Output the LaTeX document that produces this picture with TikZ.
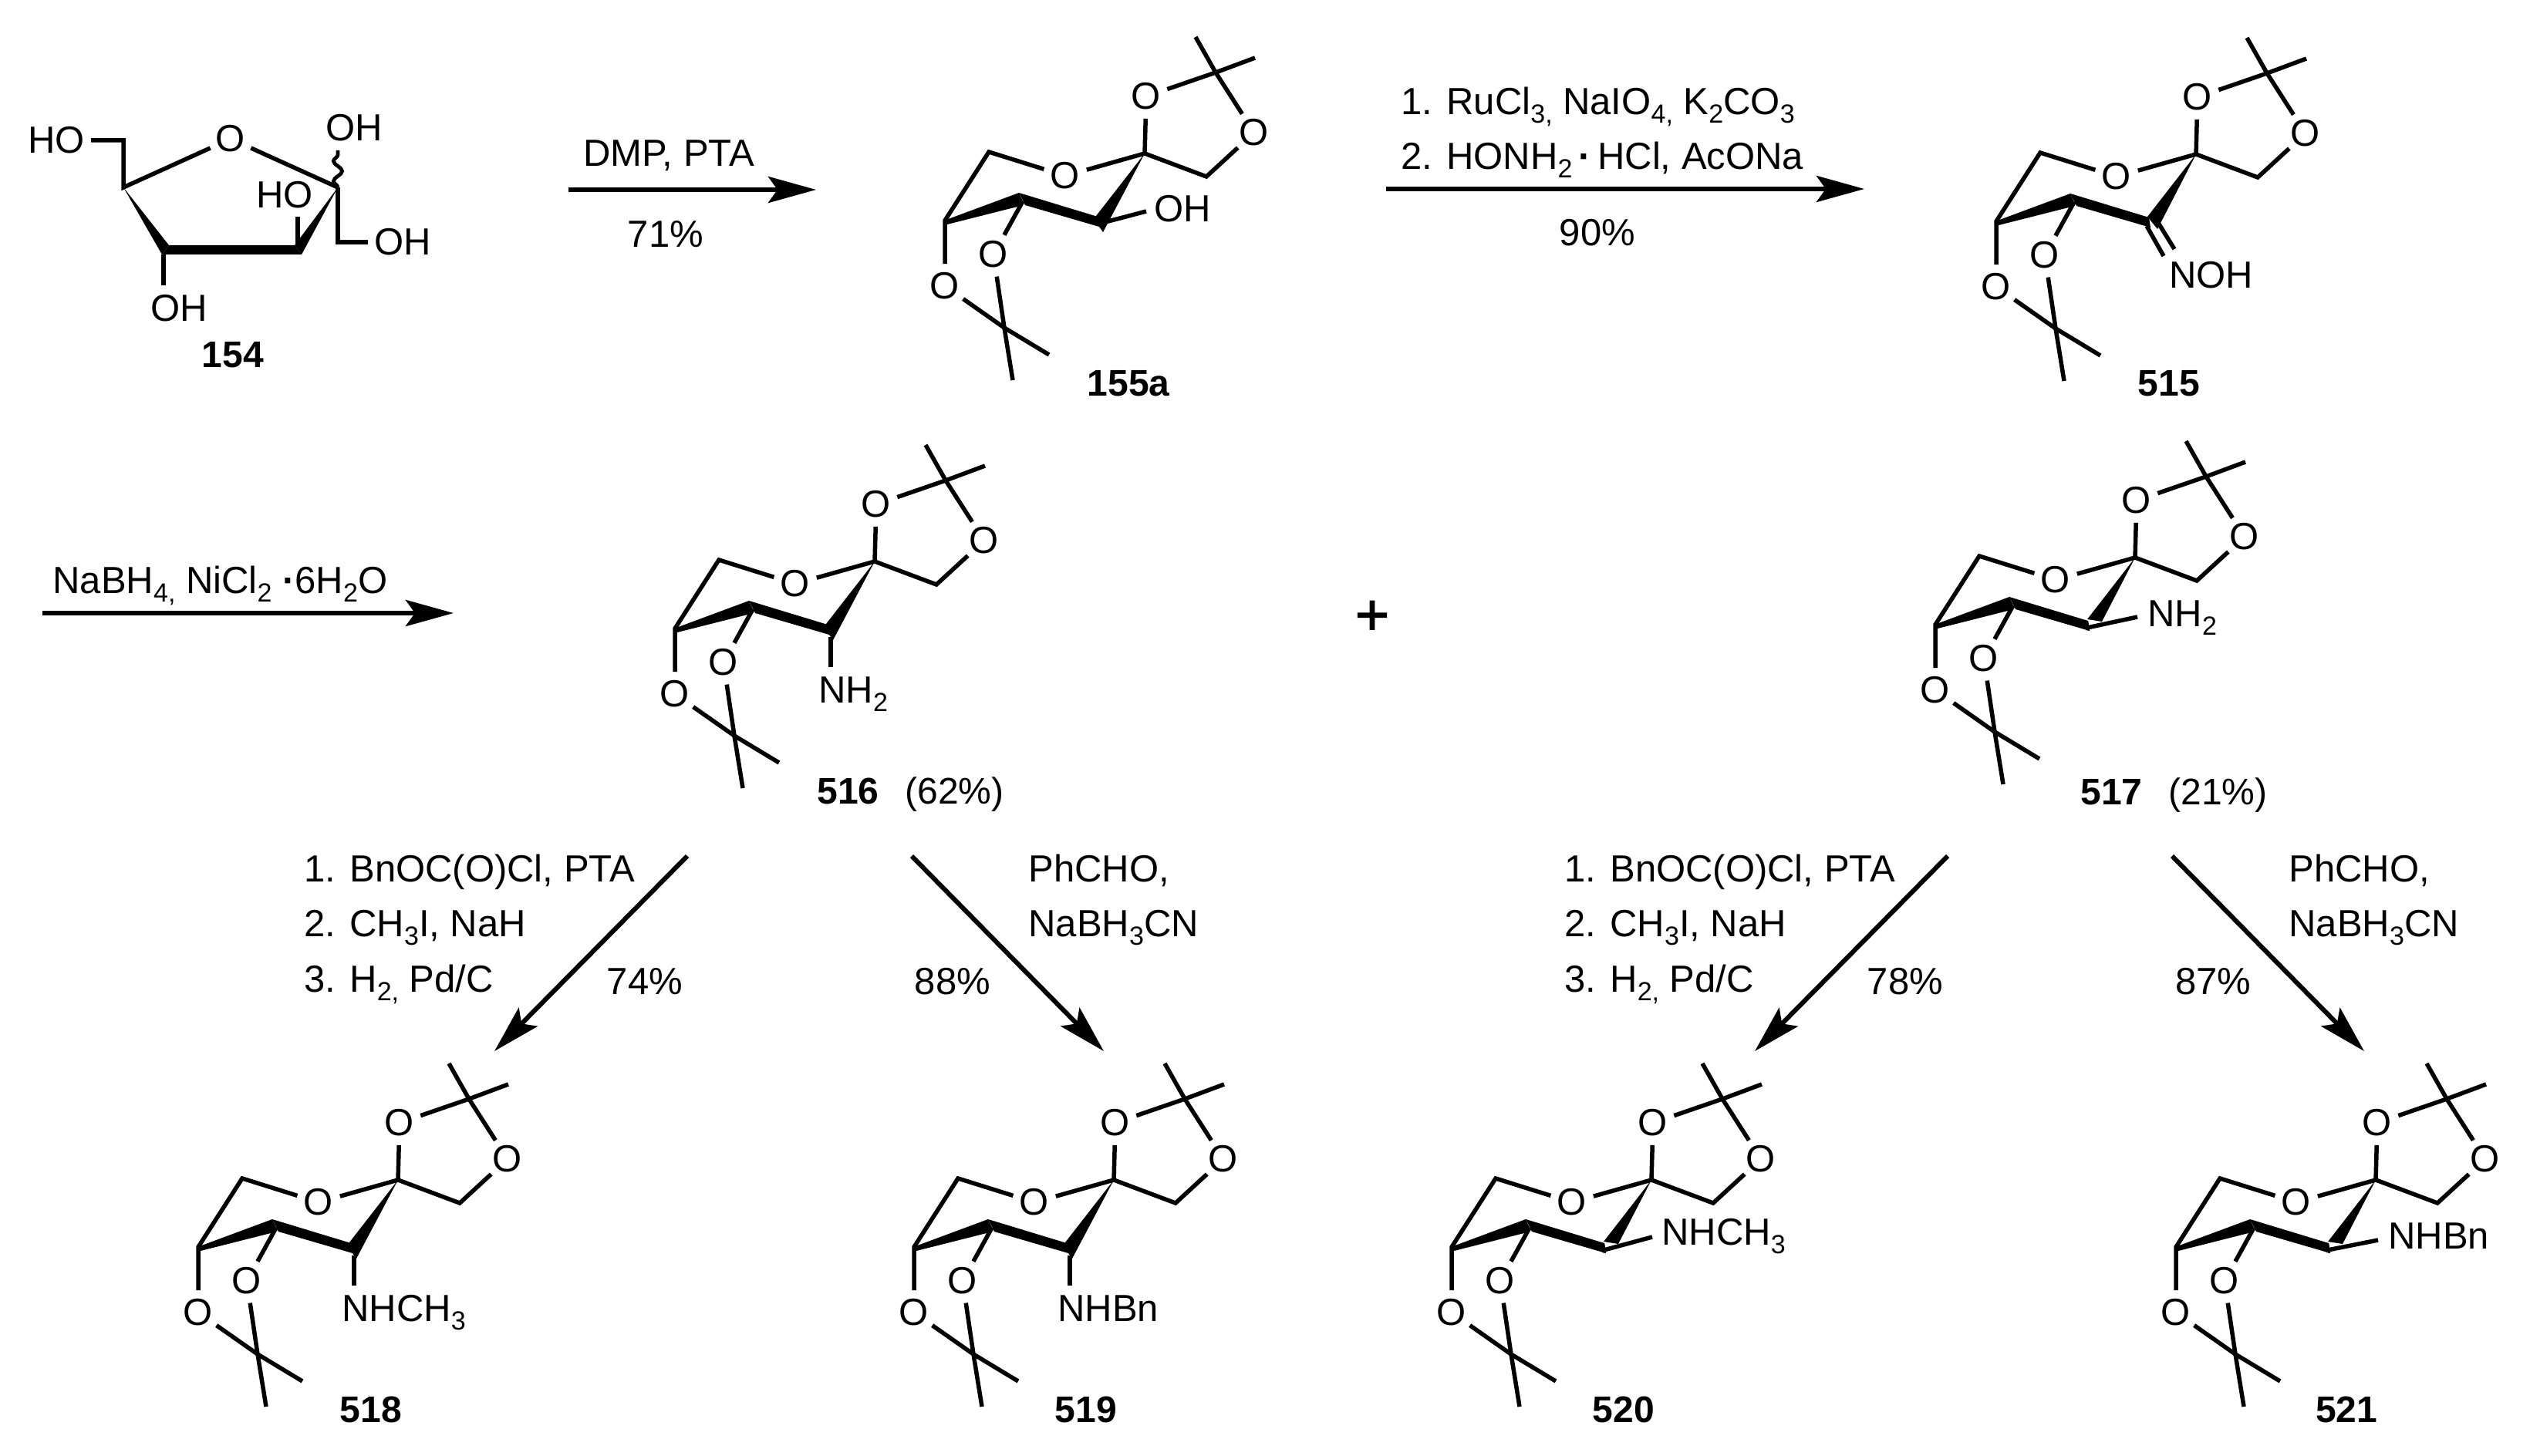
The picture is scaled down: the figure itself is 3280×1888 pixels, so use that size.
\documentclass[tikz,border=0pt]{standalone}
\usepackage{fontspec}
\setmainfont{Liberation Sans}
\newfontface\plusface[FakeBold=1.5]{Liberation Sans}
\usetikzlibrary{arrows.meta,decorations.pathmorphing}
\newcommand\subs[1]{\raisebox{-5.5pt}{\fontsize{17}{17}\selectfont #1}}
\newcommand\pdot{\textbf{·}}
\tikzset{
  bond/.style={line width=2.75pt,line cap=butt,line join=miter},
  atom/.style={circle,inner sep=0pt,minimum size=28.5pt,font=\fontsize{24.5}{28}\selectfont},
  lab/.style={inner sep=0pt,anchor=base west,font=\fontsize{24.5}{28}\selectfont},
  clab/.style={inner sep=0pt,anchor=base,font=\fontsize{24.5}{28}\selectfont},
  cpd/.style={inner sep=0pt,anchor=base,font=\fontsize{24}{28}\selectfont\bfseries},
  rxn/.style={line width=3pt,-{Stealth[length=31pt,width=17pt,inset=6pt]}},
}
% name, x, y, variant code
\newcommand\sugar[4]{%
\begin{scope}[shift={(#2,#3)},name prefix=#1-]
  \coordinate (sp) at (0,0);
  \coordinate (me1) at (66,-151);
  \coordinate (cac) at (92,-105);
  \coordinate (me2) at (143,-124);
  \coordinate (ch2) at (80,30);
  \coordinate (rc) at (-202,-2);
  \coordinate (cbl) at (-259,87);
  \coordinate (cm) at (-158,62);
  \coordinate (cac2) at (-182,226);
  \coordinate (me3) at (-124,261);
  \coordinate (me4) at (-171,294);
  \node[atom] (ot) at (2,-74) {O};
  \node[atom] (or) at (142,-27) {O};
  \node[atom] (ori) at (-103,29) {O};
  \node[atom] (ol) at (-196,131) {O};
  \node[atom] (oll) at (-259,172) {O};
  \draw[bond] (sp) -- (ot);
  \draw[bond] (ot) -- (cac);
  \draw[bond] (cac) -- (or);
  \draw[bond] (me1) -- (cac);
  \draw[bond] (cac) -- (me2);
  \draw[bond] (or) -- (ch2) -- (sp) -- (ori);
  \draw[bond] (ori) -- (rc) -- (cbl) -- (oll);
  \draw[bond] (oll) -- (cac2);
  \draw[bond] (ol) -- (cac2);
  \draw[bond] (cac2) -- (me3);
  \draw[bond] (cac2) -- (me4);
  \draw[bond] (cm) -- (ol);
  \fill (-260,87) -- (-163,51) -- (-158,62) -- (-165,69) -- (-256,92) -- cycle;
  \fill (-163,51) -- (-61,82) -- (-59,95) -- (-155,67) -- cycle;
  #4
\end{scope}}
\newcommand\axialsub[1]{%
  \fill (sp) -- (-63,81) -- (-59,95) -- (-54,102) -- cycle;
  \coordinate (sb) at (-57,98);
  \coordinate (se) at (-57,137);
  \draw[bond] (sb) -- (se);
  \node[lab] (sl) at (-73,183) {#1};}
\newcommand\eqsub[4]{%
  \fill (sp) -- (-62,80) -- (-43,83) -- cycle;
  \fill (-61,82) -- (-64,94) -- (-59,95) -- cycle;
  \coordinate (sb) at (-60,90.5);
  \coordinate (se) at (#2,#3);
  \draw[bond] (sb) -- (se);
  \node[lab] (sl) at (#4) {#1};}
\begin{document}
\begin{tikzpicture}[x=0.5pt,y=-0.5pt]
\useasboundingbox (0,0) rectangle (3280,1888);
\fill[white] (0,0) rectangle (3280,1888);

% --- 154
\coordinate (c5) at (160,243);
\coordinate (c6) at (160,182);
\coordinate (c2) at (438,243);
\coordinate (c4a) at (219,318);
\coordinate (c4b) at (210,330);
\coordinate (c3a) at (382,318);
\coordinate (c3b) at (391,330);
\coordinate (c1h) at (438,314);
\coordinate (c1e) at (477,314);
\coordinate (c3up) at (386,318);
\coordinate (c3ue) at (386,281);
\coordinate (c4dn) at (212,330);
\coordinate (c4de) at (212,370);
\coordinate (c2w) at (438,195);
\coordinate (hoe) at (118,182);
\node[atom] (o154) at (299,180) {O};
\node[lab] (ho1) at (36,199) {HO};
\node[lab] (oh2) at (422,183) {OH};
\node[lab] (ho3) at (332,270) {HO};
\node[lab] (oh4) at (485,331) {OH};
\node[lab] (oh5) at (195,416) {OH};
\node[cpd] (n154) at (302,476) {154};
\draw[bond] (hoe) -- (c6) -- (c5) -- (o154);
\draw[bond] (o154) -- (c2);
\draw[bond] (c2) -- (c1h) -- (c1e);
\draw[bond] (c3up) -- (c3ue);
\draw[bond] (c4dn) -- (c4de);
\fill (c5) -- (c4a) -- (c4b) -- cycle;
\fill (c4a) -- (c3a) -- (c3b) -- (c4b) -- cycle;
\fill (c2) -- (c3a) -- (c3b) -- cycle;
\draw[line width=2.4pt,decorate,decoration={snake,segment length=13pt,amplitude=2.8pt}] (c2) -- (c2w);

% --- arrow 1
\coordinate (a1s) at (737,246);
\coordinate (a1e) at (1058,246);
\draw[rxn] (a1s) -- (a1e);
\node[clab] (t1a) at (867,216) {DMP, PTA};
\node[clab] (t1b) at (863,321) {71\%};

% --- 155a
\sugar{m155}{1484}{199}{%
  \fill (sp) -- (-63,81) -- (-59,95) -- (-54,102) -- cycle;
  \coordinate (sb) at (-55,90);
  \coordinate (se) at (2,75);
  \draw[bond] (sb) -- (se);
  \node[lab] (sl) at (12,88.5) {OH};}
\node[cpd] (n155) at (1463,513) {155a};

% --- arrow 2
\coordinate (a2s) at (1797,245);
\coordinate (a2e) at (2417,245);
\draw[rxn] (a2s) -- (a2e);
\node[lab] (t2a) at (1816,149) {1. RuCl\subs{3,} NaIO\subs{4,} K\subs{2}CO\subs{3}};
\node[lab] (t2b) at (1816,220) {2. HONH\subs{2}\,\pdot\,HCl, AcONa};
\node[clab] (t2c) at (2071,319) {90\%};

% --- 515
\sugar{m515}{2847}{200}{%
  \fill (sp) -- (-63,81) -- (-50,97) -- cycle;
  \coordinate (d1a) at (-64,93);
  \coordinate (d1b) at (-42,132);
  \coordinate (d2a) at (-49,89);
  \coordinate (d2b) at (-28,123);
  \draw[bond] (d1a) -- (d1b);
  \draw[bond] (d2a) -- (d2b);
  \node[clab] (sl) at (19.5,174) {NOH};}
\node[cpd] (n515) at (2812,513) {515};

% --- arrow 3
\coordinate (a3s) at (55,795);
\coordinate (a3e) at (588,795);
\draw[rxn] (a3s) -- (a3e);
\node[lab] (t3a) at (68,769) {NaBH\subs{4,} NiCl\subs{2} \pdot6H\subs{2}O};

% --- 516 + 517
\sugar{m516}{1134}{728}{\axialsub{NH\subs{2}}}
\node[lab,font=\fontsize{24}{28}\selectfont] (n516) at (1059,1042) {\textbf{516}\hspace{17pt}(62\%)};
\node[inner sep=0pt,anchor=base,font=\plusface\fontsize{38}{38}\selectfont] (plus) at (1779,823) {+};
\sugar{m517}{2768}{723}{\eqsub{NH\subs{2}}{3}{77}{16,89.5}}
\node[lab,font=\fontsize{24}{28}\selectfont] (n517) at (2697,1043) {\textbf{517}\hspace{17pt}(21\%)};

% --- left reagents
\node[lab] (r1) at (394,1143) {1. BnOC(O)Cl, PTA};
\node[lab] (r2) at (394,1214) {2. CH\subs{3}I, NaH};
\node[lab] (r3) at (394,1286) {3. H\subs{2,} Pd/C};
\node[clab] (y74) at (836,1289) {74\%};
\node[clab] (y88) at (1235,1289) {88\%};
\node[lab] (r4) at (1333,1143) {PhCHO,};
\node[lab] (r5) at (1333,1214) {NaBH\subs{3}CN};
\coordinate (a4s) at (891,1110);
\coordinate (a4e) at (641,1363);
\coordinate (a5s) at (1182,1110);
\coordinate (a5e) at (1431,1363);
\draw[rxn] (a4s) -- (a4e);
\draw[rxn] (a5s) -- (a5e);

% --- right reagents
\node[lab] (r6) at (2028,1143) {1. BnOC(O)Cl, PTA};
\node[lab] (r7) at (2028,1214) {2. CH\subs{3}I, NaH};
\node[lab] (r8) at (2028,1286) {3. H\subs{2,} Pd/C};
\node[clab] (y78) at (2470,1289) {78\%};
\node[clab] (y87) at (2869,1289) {87\%};
\node[lab] (r9) at (2967,1143) {PhCHO,};
\node[lab] (r10) at (2967,1214) {NaBH\subs{3}CN};
\coordinate (a6s) at (2525,1110);
\coordinate (a6e) at (2275,1363);
\coordinate (a7s) at (2816,1110);
\coordinate (a7e) at (3065,1363);
\draw[rxn] (a6s) -- (a6e);
\draw[rxn] (a7s) -- (a7e);

% --- products
\sugar{m518}{516}{1530}{\axialsub{NHCH\subs{3}}}
\node[cpd] (n518) at (481,1844) {518};
\sugar{m519}{1444}{1530}{\axialsub{NHBn}}
\node[cpd] (n519) at (1408,1844) {519};
\sugar{m520}{2141}{1530}{\eqsub{NHCH\subs{3}}{1}{74}{13,84}}
\node[cpd] (n520) at (2105,1844) {520};
\sugar{m521}{3080}{1530}{\eqsub{NHBn}{3}{78}{16,89}}
\node[cpd] (n521) at (3042,1844) {521};
\end{tikzpicture}
\end{document}
